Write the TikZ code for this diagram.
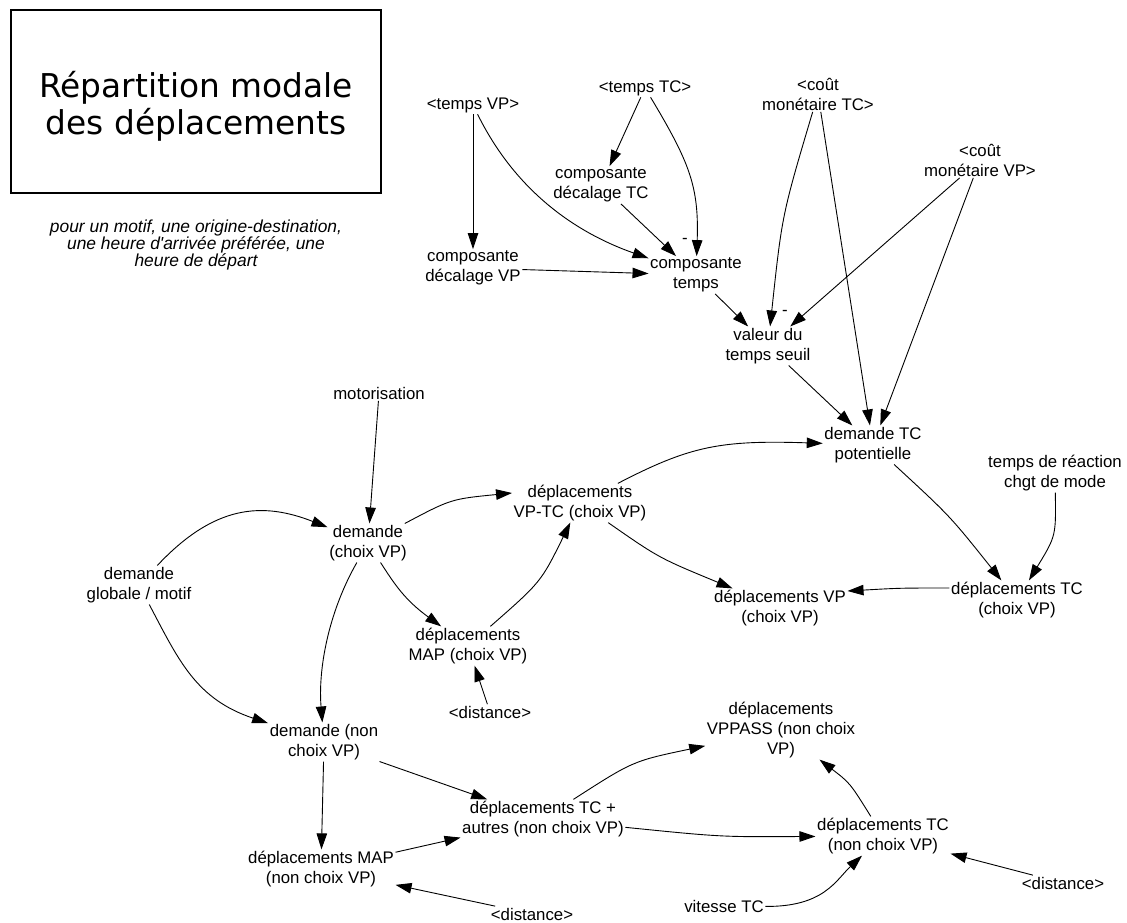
\documentclass[tikz,border=0pt]{standalone}
\usepackage{fontspec}
\usetikzlibrary{arrows.meta}
\newfontfamily\arialf{Liberation Sans}
\newfontfamily\titlef{DejaVu Sans}
\begin{document}
\begin{tikzpicture}[x=1pt,y=-1pt,
  var/.style={align=center,inner sep=1.5pt,font=\arialf\fontsize{16.8}{20}\selectfont},
  note/.style={align=center,inner sep=1pt,font=\arialf\itshape\fontsize{17.4}{16.7}\selectfont},
  sign/.style={inner sep=0pt,font=\arialf\fontsize{16.8}{20}\selectfont},
  link/.style={-{Triangle[length=16pt,width=10.5pt]},line width=0.9pt},
  frame/.style={draw,line width=1.5pt,minimum width=370pt,minimum height=183pt}]
\fill[white] (0,0) rectangle (1127,923);
\useasboundingbox (0,0) rectangle (1127,923);
% title
\node[frame] (titlebox) at (196,101.5) {};
\node[align=center,inner sep=0pt,font=\titlef\fontsize{32.8}{37}\selectfont] (title) at (196,106.7) {Répartition modale\\des déplacements};
\node[note] (subtitle) at (196,245) {pour un motif, une origine-destination,\\une heure d'arrivée préférée, une\\heure de départ};
% variables
\node[var] (tvp) at (473,105) {<temps VP>};
\node[var] (ttc) at (645,88) {<temps TC>};
\node[var] (ctc) at (818,94) {<coût\\monétaire TC>};
\node[var] (cvp) at (980,160) {<coût\\monétaire VP>};
\node[var] (cdtc) at (601,185) {composante\\décalage TC};
\node[var] (cdvp) at (473,268) {composante\\décalage VP};
\node[var] (ct) at (696,275) {composante\\temps};
\node[var] (vts) at (768,346) {valeur du\\temps seuil};
\node[var] (dtcp) at (873,445) {demande TC\\potentielle};
\node[var] (trc) at (1055,473) {temps de réaction\\chgt de mode};
\node[var] (dtcc) at (1017,600) {déplacements TC\\(choix VP)};
\node[var] (dvpc) at (780,608) {déplacements VP\\(choix VP)};
\node[var] (dvptc) at (580,503) {déplacements\\VP-TC (choix VP)};
\node[var] (mot) at (379,393) {motorisation};
\node[var] (dc) at (368,543) {demande\\(choix VP)};
\node[var] (dg) at (139,585) {demande\\globale / motif};
\node[var] (dmapc) at (468,646) {déplacements\\MAP (choix VP)};
\node[var] (dist1) at (490,712) {<distance>};
\node[var] (dnc) at (324,742) {demande (non\\choix VP)};
\node[var] (dtca) at (543,819) {déplacements TC +\\autres (non choix VP)};
\node[var] (dmapnc) at (321,869) {déplacements MAP\\(non choix VP)};
\node[var] (dist2) at (532,914) {<distance>};
\node[var] (dvppass) at (781,730) {déplacements\\VPPASS (non choix\\VP)};
\node[var] (dtcnc) at (883,836) {déplacements TC\\(non choix VP)};
\node[var] (vtc) at (724,906) {vitesse TC};
\node[var] (dist3) at (1063,883) {<distance>};
% polarity signs
\node[sign] (m1) at (685,241) {-};
\node[sign] (m2) at (785,313) {-};
% connectors
\draw[link] (tvp) -- (cdvp);
\draw[link] (tvp) .. controls (515,190) and (574,232) .. (ct);
\draw[link] (ttc) -- (cdtc);
\draw[link] (ttc) .. controls (690,163) and (699,187) .. (ct);
\draw[link] (cdtc) -- (ct);
\draw[link] (cdvp) -- (ct);
\draw[link] (ct) -- (vts);
\draw[link] (ctc) .. controls (782,215) .. (vts);
\draw[link] (ctc) -- (dtcp);
\draw[link] (cvp) -- (vts);
\draw[link] (cvp) -- (dtcp);
\draw[link] (vts) -- (dtcp);
\draw[link] (dvptc) .. controls (690,446) and (720,440) .. (dtcp);
\draw[link] (dvptc) .. controls (659,558) .. (dvpc);
\draw[link] (dtcp) .. controls (950,516) .. (dtcc);
\draw[link] (trc) .. controls (1056,536) .. (dtcc);
\draw[link] ([yshift=12pt]dtcc.west) .. controls (900,588) .. ([yshift=17pt]dvpc.east);
\draw[link] (mot) -- (dc);
\draw[link] (dg) .. controls (215,504) and (263,502) .. (dc);
\draw[link] (dc) .. controls (451,499) .. ([yshift=10pt]dvptc.west);
\draw[link] (dc) .. controls (395,585) and (405,600) .. (dmapc);
\draw[link] (dmapc) .. controls (541,582) .. (dvptc);
\draw[link] (dc) .. controls (328,613) and (318,670) .. (dnc);
\draw[link] (dg) .. controls (179,661) and (196,699) .. (dnc);
\draw[link] (dist1) -- (dmapc);
\draw[link] (dnc) -- (dmapnc);
\draw[link] (dnc) -- (dtca);
\draw[link] (dmapnc) -- (dtca);
\draw[link] (dist2) -- (dmapnc);
\draw[link] (dtca) .. controls (633,761) .. (dvppass);
\draw[link] (dtca) .. controls (721,837) .. (dtcnc);
\draw[link] (dtcnc) .. controls (850,783) .. (dvppass);
\draw[link] (vtc) .. controls (824,907) and (836,880) .. (dtcnc);
\draw[link] (dist3) -- (dtcnc);
\end{tikzpicture}
\end{document}
